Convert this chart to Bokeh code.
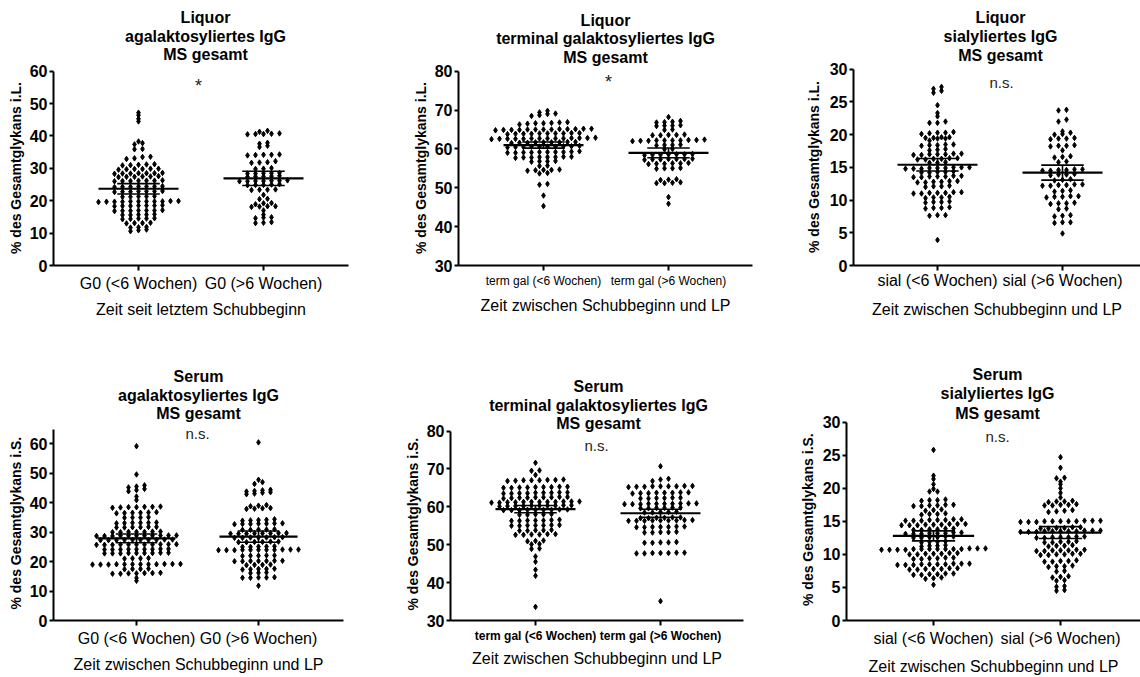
from bokeh.plotting import figure
from bokeh.layouts import row, column
from bokeh.models import FixedTicker, Label, Title
from bokeh.embed import file_html
from bokeh.resources import INLINE

FONT = "Liberation Sans"

# ---------------------------------------------------------------- data
cats_g0 = ["G0 (<6 Wochen)", "G0 (>6 Wochen)"]
cats_term = ["term gal (<6 Wochen)", "term gal (>6 Wochen)"]
cats_sial = ["sial (<6 Wochen)", "sial (>6 Wochen)"]

# Liquor, agalaktosyliertes IgG (% des Gesamtglykans i.L.)
liq_g0_lt6 = [47.2, 46.4, 45.3, 44.5, 38.3, 37.8, 37.4, 36.0, 35.9,
              33.6, 33.1, 33.5, 32.9, 31.2, 31.0, 31.3, 31.1, 30.9,
              29.9, 29.8, 29.7, 29.9, 29.8, 29.6,
              28.5, 28.4, 28.6, 28.5, 28.3, 28.5, 28.4,
              27.4, 27.5, 27.6, 27.3, 27.5, 27.4,
              26.2, 26.1, 26.3, 26.2, 26.0, 26.2, 26.1,
              24.4, 24.3, 24.5, 24.4, 24.2, 24.4, 24.3,
              22.9, 22.8, 23.0, 22.9, 22.7, 22.9, 22.8,
              21.3, 21.2, 21.4, 21.3, 21.2,
              19.8, 19.7, 19.9, 19.8, 19.6, 19.8, 19.7, 19.9, 19.8, 19.7, 19.8,
              18.5, 18.4, 18.6, 18.5, 18.3, 18.5, 18.4,
              17.0, 16.9, 17.1, 17.0, 16.8, 17.0, 16.9,
              15.7, 15.6, 15.8, 15.7, 15.6,
              14.5, 14.4, 14.6, 14.5, 14.3,
              13.1, 13.0, 13.2, 13.1,
              11.8, 11.7, 11.9, 11.1, 10.9, 10.6]
liq_g0_gt6 = [41.6, 41.3, 40.8, 40.7, 40.6, 40.5, 40.6,
              37.9, 37.6, 37.0, 36.6,
              34.2, 34.1, 34.3, 34.2, 34.0,
              32.2, 31.9, 31.8, 31.7,
              30.1, 29.9, 29.8,
              28.5, 28.4, 28.6, 28.4, 28.5,
              27.6, 27.5, 27.4, 27.7, 27.5,
              26.1, 26.2, 26.0, 26.1, 26.3, 26.2, 26.0,
              24.9, 25.0, 24.8, 24.9, 25.1,
              23.4, 23.3, 23.5, 23.4,
              21.8, 20.6, 20.5, 19.3, 19.2, 18.9,
              18.3, 18.2, 18.1, 18.3, 17.0, 15.7,
              14.8, 14.6, 14.9, 13.4, 13.2, 13.1]
liq_g0_mean = [23.7, 26.9]
liq_g0_sem = [1.6, 2.2]

# Liquor, terminal galaktosyliertes IgG
liq_tg_lt6 = [69.8, 69.4, 69.1, 69.0, 68.7, 68.5,
              66.9, 66.6, 66.7, 66.5, 66.6, 66.8, 66.3,
              65.2, 65.0, 65.1, 64.9, 65.0, 65.2, 65.1, 65.0, 64.9, 65.1, 65.0, 64.8, 64.9,
              64.0, 63.9, 64.1, 64.0, 63.9, 64.0, 64.1, 63.9, 64.0, 63.8,
              62.7, 62.6, 62.8, 62.7, 62.5, 62.7, 62.8, 62.6, 62.7, 62.9, 62.6, 62.7, 62.8, 62.6,
              61.7, 61.6, 61.8, 61.7, 61.5, 61.7, 61.8, 61.6, 61.7,
              60.6, 60.5, 60.7, 60.6, 60.4, 60.6, 60.7, 60.5, 60.6, 60.8,
              59.1, 59.2, 59.0, 59.2, 59.3, 59.1, 59.2, 59.0, 59.2, 59.4,
              57.9, 57.8, 58.0, 57.9, 57.7, 57.9, 58.0, 57.8,
              56.8, 56.7, 56.9, 56.8, 55.7, 55.6,
              54.6, 54.5, 54.7, 54.4, 54.6, 53.7, 53.8,
              50.8, 51.0, 48.0, 45.3]
liq_tg_gt6 = [68.2, 67.2, 66.9, 66.8, 67.0, 66.0, 65.9, 66.1, 66.0,
              64.9, 65.0, 63.6, 63.5, 63.7, 63.6, 63.5,
              62.2, 62.1, 62.3, 62.2, 62.0, 62.2, 62.3, 62.1, 62.2, 62.4,
              61.0, 60.9, 61.1, 61.0, 60.0, 59.9,
              58.6, 58.5, 58.7, 58.6, 58.4, 58.6, 58.5,
              57.4, 57.3, 57.5, 57.4, 57.2, 57.4, 57.3,
              56.3, 56.2, 56.4, 56.2, 56.1, 56.3,
              55.0, 54.9, 55.1, 55.0,
              52.2, 52.0, 52.1, 51.3, 51.2, 51.4, 51.2,
              47.6, 45.9]
liq_tg_mean = [61.0, 59.0]
liq_tg_sem = [0.8, 1.25]

# Liquor, sialyliertes IgG
liq_si_lt6 = [27.3, 27.0, 26.7, 26.4, 24.5, 23.3, 22.8, 22.0, 21.8, 21.8,
              20.3, 20.2, 20.3, 20.1, 20.4,
              19.5, 19.4, 19.6, 19.5, 19.4, 19.6, 19.1,
              18.5, 18.4, 18.4, 18.3, 18.5, 17.7, 17.8, 17.6,
              17.0, 16.9, 17.1, 17.0, 16.9, 17.0, 17.1,
              16.3, 16.2, 16.4, 16.3, 16.2, 16.4, 15.7, 15.8, 15.7,
              14.9, 14.8, 15.0, 14.9, 14.8, 15.0, 14.9, 14.8, 15.0,
              14.3, 14.2, 14.3, 14.4, 14.2,
              13.6, 13.7, 13.6, 13.5, 13.7, 13.6, 13.5,
              12.8, 12.9, 12.7, 12.8, 12.9, 12.7,
              12.1, 12.2, 12.0, 12.1,
              11.1, 11.0, 11.2, 11.1, 11.0, 11.1, 11.2,
              10.4, 10.5, 10.3, 10.4, 9.7, 9.6, 9.8, 9.7,
              8.8, 8.9, 8.7, 8.8, 7.7, 7.6, 7.7, 3.9]
liq_si_gt6 = [23.8, 23.7, 22.3, 22.0, 20.5, 20.3, 20.1, 20.0,
              19.4, 19.5, 19.3, 19.4, 18.3, 18.4, 18.2, 18.3, 17.6,
              16.6, 16.7, 16.5, 15.9, 15.8,
              14.6, 14.7, 14.5, 14.6, 14.7, 14.5, 13.9, 13.8, 14.0, 13.9,
              13.1, 13.2, 13.0, 12.3, 12.4, 12.2, 12.3, 12.4, 12.2,
              11.4, 11.5, 11.3, 10.5, 10.6, 10.4, 10.5, 10.6,
              9.5, 9.4, 9.6, 9.5, 8.6, 8.7, 7.6, 7.7, 7.5,
              6.6, 6.5, 6.6, 4.9]
liq_si_mean = [15.4, 14.2]
liq_si_sem = [0.95, 1.15]

# Serum, agalaktosyliertes IgG (% des Gesamtglykans i.S.)
ser_g0_lt6 = [59.2, 49.6, 45.9, 45.5, 45.2, 44.7, 44.3, 43.9, 42.1, 40.9,
              38.6, 38.4, 38.5, 38.7, 38.3, 38.5, 38.6,
              36.6, 36.5, 36.8, 36.4, 36.6, 36.7, 35.0, 34.9, 35.1, 35.0,
              33.2, 33.1, 33.3, 33.2, 33.0, 33.2,
              31.7, 31.6, 31.8, 31.7, 31.6, 31.8,
              30.1, 30.0, 30.2, 30.1, 30.0, 30.2, 30.1,
              28.8, 28.7, 28.9, 28.8, 28.7, 28.8, 28.9, 28.8, 28.7, 28.8, 28.9,
              27.4, 27.3, 27.5, 27.4, 27.3, 27.4, 27.5, 27.4, 27.3, 27.4,
              25.8, 25.7, 25.9, 25.8, 25.7, 25.8, 25.9, 25.8, 25.7, 25.8, 25.9,
              24.2, 24.1, 24.3, 24.2, 24.1, 24.2, 24.3, 24.2, 24.1,
              22.9, 22.8, 23.0, 22.9, 22.8, 22.9, 23.0, 22.9, 22.8,
              21.1, 21.0, 21.2, 21.1,
              19.1, 19.0, 19.2, 19.1, 19.0, 19.1, 19.2, 19.1, 19.0, 19.1, 19.2, 19.1,
              17.5, 17.4, 17.6, 17.5,
              16.1, 16.0, 16.2, 15.9, 16.0, 16.1, 15.9, 14.4, 13.5]
ser_g0_gt6 = [60.5, 47.8, 47.0, 46.4,
              44.4, 44.2, 44.0, 43.8, 43.6, 43.4, 43.1, 42.9,
              39.0, 38.8, 38.2, 38.0, 38.1, 39.2, 37.9,
              34.1, 34.0, 34.2, 33.9, 34.4,
              32.9, 32.8, 33.0, 32.9, 32.7, 33.0, 32.8,
              30.9, 30.8, 31.0, 30.9, 30.8,
              29.6, 29.5, 29.7, 29.6, 29.5, 29.6, 29.7, 29.5,
              28.2, 28.1, 28.3, 28.2, 28.1, 28.2, 28.3,
              26.7, 26.6, 26.8, 26.7, 26.6, 26.8,
              25.1, 25.0, 25.2, 25.1, 25.0,
              24.0, 23.9, 24.1, 24.0, 23.9, 24.0, 24.1, 24.0, 23.9, 24.0, 24.1,
              22.0, 21.9, 22.1, 22.0, 22.1,
              20.2, 20.1, 20.3, 20.2, 20.1, 20.2, 20.3,
              18.9, 18.8, 19.0, 18.9, 17.5, 17.4, 17.6, 17.5, 17.3,
              16.2, 16.1, 16.3, 14.6, 14.5, 14.7, 14.6, 14.5, 11.8]
ser_g0_mean = [27.9, 28.5]
ser_g0_sem = [1.5, 1.9]

# Serum, terminal galaktosyliertes IgG
ser_tg_lt6 = [71.6, 69.6, 69.5, 68.4,
              67.2, 67.0, 66.9, 67.1, 67.0, 66.8, 67.1, 67.0,
              65.2, 65.1, 65.3, 65.2, 65.0, 65.2, 65.3, 65.1, 65.0,
              63.7, 63.6, 63.8, 63.7, 63.5, 63.7, 63.8, 63.6, 63.5,
              62.5, 62.4, 62.6, 62.5, 62.3, 62.5, 62.6, 62.4, 62.2,
              61.3, 61.2, 61.4, 61.3, 61.1, 61.3, 61.4, 61.2, 61.3, 61.1, 61.4, 61.3,
              60.3, 60.2, 60.4, 60.3, 60.2, 60.3, 60.4, 60.2, 60.3, 60.1,
              59.2, 59.1, 59.3, 59.2, 59.1, 59.2, 59.3, 59.1, 59.2,
              58.0, 57.9, 58.1, 58.0, 57.9,
              56.4, 56.3, 56.5, 56.4, 56.3, 56.6, 56.4,
              55.1, 55.0, 55.2, 55.1, 55.0, 55.2, 55.1,
              53.8, 53.7, 53.9, 53.8, 53.7,
              52.7, 52.6, 52.8, 52.7, 52.6, 52.8,
              51.0, 51.1, 50.9, 50.2, 50.1, 49.0, 48.9,
              46.9, 45.5, 43.4, 41.8, 33.6]
ser_tg_gt6 = [70.7, 67.4, 67.2, 66.8,
              65.4, 65.3, 65.5, 65.4, 65.2, 65.4, 65.5, 65.3, 65.4,
              63.7, 63.6, 63.8, 63.7, 63.5, 63.7, 63.8, 63.6,
              62.3, 62.2, 62.4, 62.3, 62.2, 62.4,
              60.8, 60.7, 60.9, 60.8, 60.7, 60.8, 60.9, 60.7, 60.8, 60.9,
              59.7, 59.6, 59.8, 59.7, 59.6, 59.8,
              58.6, 58.5, 58.7, 58.6, 58.5,
              57.1, 57.0, 57.2, 57.1, 57.2, 57.0,
              56.4, 56.3, 56.5, 56.4, 56.3, 56.4, 56.5, 56.3, 56.4,
              54.7, 54.6, 54.8, 54.7, 54.6, 54.8, 54.7,
              53.3, 53.2, 53.4, 53.3, 53.2,
              50.6, 50.5, 50.7, 50.6, 50.5,
              47.8, 47.7, 47.9, 47.8, 47.7, 47.9, 47.8, 35.1]
ser_tg_mean = [59.4, 58.3]
ser_tg_sem = [0.95, 1.05]

# Serum, sialyliertes IgG
ser_si_lt6 = [25.8, 21.9, 21.4, 20.6, 19.9, 19.5, 19.5,
              18.2, 18.1, 18.3, 18.2, 17.4, 17.3, 17.5, 17.4, 17.3, 17.5,
              16.7, 16.8, 16.6, 16.1, 16.0, 16.2, 16.1,
              15.2, 15.1, 15.3, 15.2, 15.1, 15.3, 15.2, 15.1,
              14.5, 14.4, 14.6, 14.5, 14.4, 14.6, 14.5, 14.4, 14.6,
              13.8, 13.7, 13.9, 13.8, 13.7, 13.9,
              13.2, 13.1, 13.3, 13.2, 13.1, 13.3, 13.2, 13.1,
              12.6, 12.5, 12.7, 12.6, 12.5, 12.7,
              11.9, 11.8, 12.0, 11.9, 11.3, 11.2, 11.4, 11.3,
              10.8, 10.7, 10.9, 10.8, 10.7, 10.8, 10.9, 10.8, 10.7, 10.8, 10.9, 10.8, 10.7, 10.8,
              10.1, 10.0, 10.2, 10.1, 10.0, 10.2, 10.1,
              9.4, 9.3, 9.5, 9.4, 9.3, 9.5,
              8.5, 8.4, 8.6, 8.5, 8.4, 8.6, 8.5, 8.4, 8.6, 8.5,
              7.8, 7.7, 7.9, 7.8, 7.7, 7.9, 7.8,
              7.0, 6.9, 7.1, 7.0, 6.9, 7.1, 6.4, 6.3, 6.5, 5.4]
ser_si_gt6 = [24.7, 23.1, 21.6, 21.5, 21.0, 20.6, 20.0, 19.3, 18.6,
              18.0, 18.1, 17.9, 18.0, 17.5, 17.4, 17.6, 17.5, 17.4,
              16.7, 16.5, 16.4, 16.6,
              15.0, 14.9, 15.1, 15.0, 14.9, 15.0, 15.1, 15.0, 14.9, 15.0, 15.1,
              14.0, 13.9, 14.1, 14.0, 13.9, 14.1,
              13.5, 13.4, 13.6, 13.5, 13.4, 13.5, 13.6, 13.5, 13.4, 13.5, 13.6,
              12.6, 12.5, 12.7, 12.6, 12.5, 12.7, 12.6,
              11.9, 11.8, 12.0, 11.9, 11.8, 11.3, 11.2, 11.4, 11.3,
              10.6, 10.5, 10.7, 10.6, 10.5, 10.7, 10.6,
              10.0, 9.9, 10.1, 10.0, 9.9, 10.1,
              9.0, 8.9, 9.1, 9.0, 8.9, 8.2, 8.1, 8.3, 8.2,
              7.4, 7.5, 6.6, 6.7, 6.5, 6.0, 6.1, 5.1, 5.2, 4.5, 4.6]
ser_si_mean = [12.8, 13.3]
ser_si_sem = [0.75, 0.9]

# ---------------------------------------------------------------- layout
# Each row shares its plot frame (top edge = row top); the visible axes are
# limited with bounds.  Pixel values below are measured from the row top /
# the figure's left edge.
ROW1 = dict(height=320, bottom=54)
ROW2 = dict(height=357, bottom=53)
YLABEL_LEN_PX = 172  # length of the bold 14px y-axis title

panels = [
    dict(lines=["Liquor", "agalaktosyliertes IgG", "MS gesamt"], groups=(liq_g0_lt6, liq_g0_gt6),
         mean=liq_g0_mean, sem=liq_g0_sem, cats=cats_g0, sig="*",
         ylabel="% des Gesamtglykans i.L.", xlabel="Zeit seit letztem Schubbeginn",
         ymin=0, ymax=60, ticks=list(range(0, 61, 10)), px_per_unit=195 / 60, rowc=ROW1,
         left=53, right=32, first=85, unit=125, ylabel_x=15,
         title_x=205, title_y=[17, 36, 54], sig_xy=(198, 86),
         lab_size="16px", lab_bold=False, lab_off=4, ax_off=6),
    dict(lines=["Liquor", "terminal galaktosyliertes IgG", "MS gesamt"], groups=(liq_tg_lt6, liq_tg_gt6),
         mean=liq_tg_mean, sem=liq_tg_sem, cats=cats_term, sig="*",
         ylabel="% des Gesamtglykans i.L.", xlabel="Zeit zwischen Schubbeginn und LP",
         ymin=30, ymax=80, ticks=list(range(30, 81, 10)), px_per_unit=195 / 50, rowc=ROW1,
         left=78, right=8, first=85, unit=125, ylabel_x=40,
         title_x=225, title_y=[20, 38, 57], sig_xy=(228, 82),
         lab_size="12px", lab_bold=False, lab_off=3, ax_off=6),
    dict(lines=["Liquor", "sialyliertes IgG", "MS gesamt"], groups=(liq_si_lt6, liq_si_gt6),
         mean=liq_si_mean, sem=liq_si_sem, cats=cats_sial, sig="n.s.",
         ylabel="% des Gesamtglykans i.L.", xlabel="Zeit zwischen Schubbeginn und LP",
         ymin=0, ymax=30, ticks=list(range(0, 31, 5)), px_per_unit=197 / 30, rowc=ROW1,
         left=93, right=0, first=84, unit=125, ylabel_x=52,
         title_x=240, title_y=[17, 36, 55], sig_xy=(241, 82),
         lab_size="16px", lab_bold=False, lab_off=1, ax_off=9),
    dict(lines=["Serum", "agalaktosyliertes IgG", "MS gesamt"], groups=(ser_g0_lt6, ser_g0_gt6),
         mean=ser_g0_mean, sem=ser_g0_sem, cats=cats_g0, sig="n.s.",
         ylabel="% des Gesamtglykans i.S.", xlabel="Zeit zwischen Schubbeginn und LP",
         ymin=0, ymax=65, ticks=list(range(0, 61, 10)), px_per_unit=179 / 60, rowc=ROW2,
         left=53, right=37, first=83, unit=122, ylabel_x=15,
         title_x=198, title_y=[57, 76, 94], sig_xy=(197, 115),
         lab_size="16px", lab_bold=False, lab_off=4, ax_off=6),
    dict(lines=["Serum", "terminal galaktosyliertes IgG", "MS gesamt"], groups=(ser_tg_lt6, ser_tg_gt6),
         mean=ser_tg_mean, sem=ser_tg_sem, cats=cats_term, sig="n.s.",
         ylabel="% des Gesamtglykans i.S.", xlabel="Zeit zwischen Schubbeginn und LP",
         ymin=30, ymax=80, ticks=list(range(30, 81, 10)), px_per_unit=192 / 50, rowc=ROW2,
         left=70, right=17, first=85, unit=125, ylabel_x=33,
         title_x=218, title_y=[67, 86, 104], sig_xy=(216, 127),
         lab_size="12px", lab_bold=True, lab_off=3, ax_off=4),
    dict(lines=["Serum", "sialyliertes IgG", "MS gesamt"], groups=(ser_si_lt6, ser_si_gt6),
         mean=ser_si_mean, sem=ser_si_sem, cats=cats_sial, sig="n.s.",
         ylabel="% des Gesamtglykans i.S.", xlabel="Zeit zwischen Schubbeginn und LP",
         ymin=0, ymax=30, ticks=list(range(0, 31, 5)), px_per_unit=201 / 30, rowc=ROW2,
         left=86, right=0, first=87, unit=127, ylabel_x=47,
         title_x=237, title_y=[55, 74, 94], sig_xy=(237, 118),
         lab_size="16px", lab_bold=False, lab_off=4, ax_off=8),
]

DOT_STEP_PX = 8.0   # horizontal distance between neighbouring dots in a row
ROW_PX = 2.5        # values closer than this (in pixels) share a row


def swarm(values, row_h):
    """Group sorted values into rows and return centred slot offsets."""
    vals = sorted(values)
    slots, ys = [], []
    i = 0
    while i < len(vals):
        j = i
        while j < len(vals) and vals[j] - vals[i] < row_h:
            j += 1
        n = j - i
        for k in range(n):
            slots.append(k - (n - 1) / 2)
            ys.append(vals[i + k])
        i = j
    return slots, ys


def make_panel(c):
    width = 380
    fw = width - c["left"] - c["right"]
    fh = c["rowc"]["height"] - c["rowc"]["bottom"]
    ppu = c["px_per_unit"]
    x0 = 1 - c["first"] / c["unit"]
    x1 = x0 + fw / c["unit"]
    y_top = c["ymin"] + fh / ppu

    def px_to_x(px):
        return x0 + (px - c["left"]) / c["unit"]

    def px_to_y(py):
        return c["ymin"] + (fh - py) / ppu

    p = figure(width=width, height=c["rowc"]["height"],
               x_range=(x0, x1), y_range=(c["ymin"], y_top),
               min_border_left=c["left"], min_border_right=c["right"],
               min_border_top=0, min_border_bottom=c["rowc"]["bottom"],
               output_backend="svg", toolbar_location=None)
    p.title.standoff = 0
    p.outline_line_color = None
    p.xgrid.visible = False
    p.ygrid.visible = False

    ax = p.yaxis[0]
    ax.ticker = FixedTicker(ticks=c["ticks"])
    ax.bounds = (c["ymin"], c["ymax"])
    ax.major_label_text_font = FONT
    ax.major_label_text_font_size = "16px"
    ax.major_label_text_font_style = "bold"
    ax.major_label_standoff = 2
    ax.major_tick_out = 4

    bx = p.xaxis[0]
    bx.ticker = FixedTicker(ticks=[1, 2])
    bx.major_label_overrides = {1: c["cats"][0], 2: c["cats"][1]}
    bx.axis_label = c["xlabel"]
    bx.axis_label_text_font = FONT
    bx.axis_label_text_font_size = "16px"
    bx.axis_label_text_font_style = "normal"
    bx.axis_label_standoff = c["ax_off"]
    bx.major_label_text_font = FONT
    bx.major_label_text_font_size = c["lab_size"]
    bx.major_label_text_font_style = "bold" if c["lab_bold"] else "normal"
    bx.major_label_standoff = c["lab_off"]
    bx.major_tick_out = 5

    for a in (ax, bx):
        a.axis_line_width = 2
        a.axis_line_color = "black"
        a.major_tick_line_width = 2
        a.major_tick_line_color = "black"
        a.major_tick_in = 0
        a.minor_tick_line_color = None
        a.major_label_text_color = "black"
        a.axis_label_text_color = "black"

    # y axis title in the left panel, centred on the drawn axis line
    half_axis_px = (c["ymax"] - c["ymin"]) / 2 * ppu
    p.add_layout(Title(text=c["ylabel"], align="left",
                       offset=half_axis_px - YLABEL_LEN_PX / 2,
                       standoff=max(0, c["left"] - 24 - 8.5 - c["ylabel_x"]),
                       text_font=FONT, text_font_size="14px",
                       text_font_style="bold", text_color="black"), "left")

    step = DOT_STEP_PX / c["unit"]
    for g, vals in enumerate(c["groups"]):
        centre = g + 1
        slots, ys = swarm(vals, ROW_PX / ppu)
        xs = [centre + s * step for s in slots]
        p.scatter(xs, ys, marker="diamond", size=5.5, color="black")

        m, s = c["mean"][g], c["sem"][g]
        p.segment(x0=[centre - 0.32], x1=[centre + 0.32], y0=[m], y1=[m],
                  line_width=2.2, line_color="black")
        p.segment(x0=[centre - 0.17, centre - 0.17, centre], x1=[centre + 0.17, centre + 0.17, centre],
                  y0=[m + s, m - s, m - s], y1=[m + s, m - s, m + s],
                  line_width=1.6, line_color="black")

    # three-line bold heading, each line centred
    for text, ty in zip(c["lines"], c["title_y"]):
        p.add_layout(Label(x=px_to_x(c["title_x"]), y=px_to_y(ty), text=text,
                           text_align="center", text_baseline="middle",
                           text_font=FONT, text_font_size="16px",
                           text_font_style="bold", text_color="black"))

    sx, sy = c["sig_xy"]
    p.add_layout(Label(x=px_to_x(sx), y=px_to_y(sy), text=c["sig"],
                       text_align="center", text_baseline="middle", text_font=FONT,
                       text_font_size="18px" if c["sig"] == "*" else "15px",
                       text_color="#222222"))
    return p


figs = [make_panel(c) for c in panels]
layout = column(row(*figs[:3], spacing=0), row(*figs[3:], spacing=0), spacing=0)

open("out.html", "w").write(file_html(layout, INLINE))
